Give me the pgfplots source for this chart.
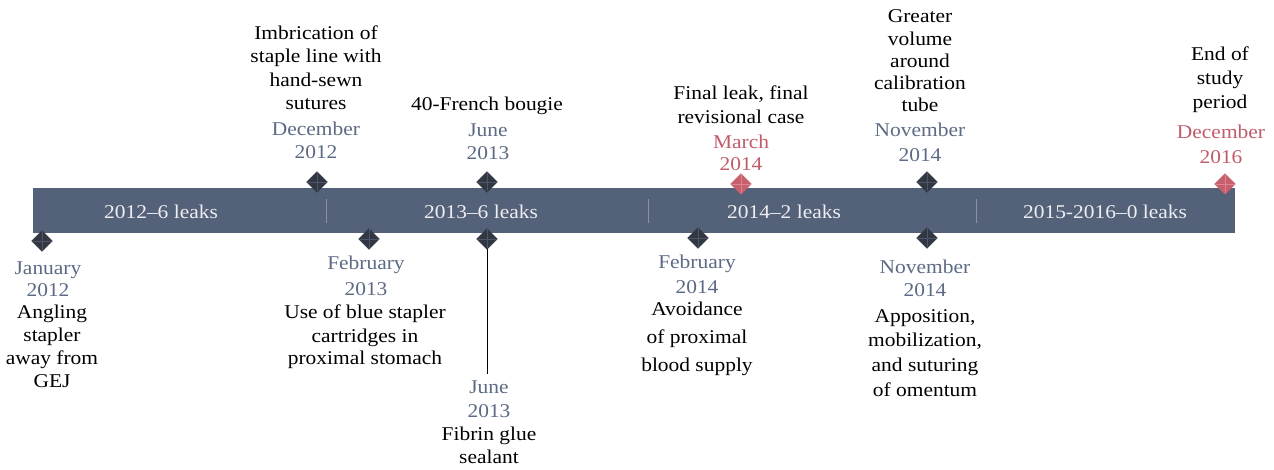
\documentclass[border=0pt]{standalone}
\usepackage{fontspec}
\setmainfont{Liberation Serif}[FakeStretch=1.1]
\usepackage{pgfplots}
\pgfplotsset{compat=1.18}
\definecolor{barc}{RGB}{83,97,121}
\definecolor{dia}{RGB}{50,55,68}
\definecolor{diaf}{RGB}{80,86,102}
\definecolor{redd}{RGB}{200,95,108}
\definecolor{redf}{RGB}{222,132,142}
\definecolor{datec}{RGB}{92,106,132}
\definecolor{redt}{RGB}{192,92,106}
\definecolor{bart}{RGB}{238,238,242}
\newcommand\tl[4]{\node[anchor=base,text=#3,inner sep=0pt] at (axis cs:#1,#2) {#4};}
\begin{document}
\begin{tikzpicture}[font=\fontsize{19.5}{22}\selectfont]
\begin{axis}[scale only axis, width=1274pt, height=470pt,
  xmin=0, xmax=1274, ymin=0, ymax=470, y dir=reverse,
  axis line style={draw=none}, xtick=\empty, ytick=\empty, clip=false]
% bar
\addplot[draw=none, fill=barc] coordinates {(33,188) (1235,188) (1235,233) (33,233)} --cycle;
% separators
\addplot[draw=bart, opacity=0.35, line width=1pt] coordinates {(326,199) (326,223)};
\addplot[draw=bart, opacity=0.35, line width=1pt] coordinates {(648,199) (648,223)};
\addplot[draw=bart, opacity=0.35, line width=1pt] coordinates {(976,199) (976,223)};
% connector
\addplot[draw=black, line width=0.8pt] coordinates {(487,246) (487,374)};
% dark diamonds
\addplot[only marks, mark=square*, mark size=7.3pt, mark options={rotate=45, fill=dia, draw=dia}]
  coordinates {(42,241) (317,182) (369,239) (487,182) (487,239) (698,238) (927,182) (927,238)};
\addplot[only marks, mark=+, mark size=9.5pt, mark options={draw=diaf, line width=0.6pt}]
  coordinates {(42,241) (317,182) (369,239) (487,182) (487,239) (698,238) (927,182) (927,238)};
% red diamonds
\addplot[only marks, mark=square*, mark size=7.3pt, mark options={rotate=45, fill=redd, draw=redd}]
  coordinates {(741,184) (1225,184)};
\addplot[only marks, mark=+, mark size=9.5pt, mark options={draw=redf, line width=0.6pt}]
  coordinates {(741,184) (1225,184)};
% bar labels
\tl{161}{219}{bart}{2012–6 leaks}
\tl{481}{219}{bart}{2013–6 leaks}
\tl{784}{219}{bart}{2014–2 leaks}
\tl{1105}{219}{bart}{2015-2016–0 leaks}
% top labels
\tl{316}{40}{black}{Imbrication of}
\tl{316}{63}{black}{staple line with}
\tl{316}{87}{black}{hand-sewn}
\tl{316}{110}{black}{sutures}
\tl{316}{136}{datec}{December}
\tl{316}{159}{datec}{2012}
\tl{487}{111}{black}{40-French bougie}
\tl{488}{137}{datec}{June}
\tl{488}{160}{datec}{2013}
\tl{741}{100}{black}{Final leak, final}
\tl{741}{124}{black}{revisional case}
\tl{741}{149}{redt}{March}
\tl{741}{171}{redt}{2014}
\tl{920}{23}{black}{Greater}
\tl{920}{46}{black}{volume}
\tl{920}{68}{black}{around}
\tl{920}{90}{black}{calibration}
\tl{920}{112}{black}{tube}
\tl{920}{137}{datec}{November}
\tl{920}{162}{datec}{2014}
\tl{1220}{61}{black}{End of}
\tl{1220}{85}{black}{study}
\tl{1220}{109}{black}{period}
\tl{1221}{139}{redt}{December}
\tl{1221}{164}{redt}{2016}
% bottom labels
\tl{48}{275}{datec}{January}
\tl{48}{297}{datec}{2012}
\tl{52}{319}{black}{Angling}
\tl{52}{341}{black}{stapler}
\tl{52}{364}{black}{away from}
\tl{52}{387}{black}{GEJ}
\tl{366}{270}{datec}{February}
\tl{366}{295}{datec}{2013}
\tl{365}{319}{black}{Use of blue stapler}
\tl{365}{342}{black}{cartridges in}
\tl{365}{364}{black}{proximal stomach}
\tl{489}{393}{datec}{June}
\tl{489}{417}{datec}{2013}
\tl{489}{440}{black}{Fibrin glue}
\tl{489}{463}{black}{sealant}
\tl{697}{269}{datec}{February}
\tl{697}{294}{datec}{2014}
\tl{697}{316}{black}{Avoidance}
\tl{697}{343}{black}{of proximal}
\tl{697}{371}{black}{blood supply}
\tl{925}{273}{datec}{November}
\tl{925}{297}{datec}{2014}
\tl{925}{322}{black}{Apposition,}
\tl{925}{346}{black}{mobilization,}
\tl{925}{371}{black}{and suturing}
\tl{925}{396}{black}{of omentum}
\end{axis}
\end{tikzpicture}
\end{document}
